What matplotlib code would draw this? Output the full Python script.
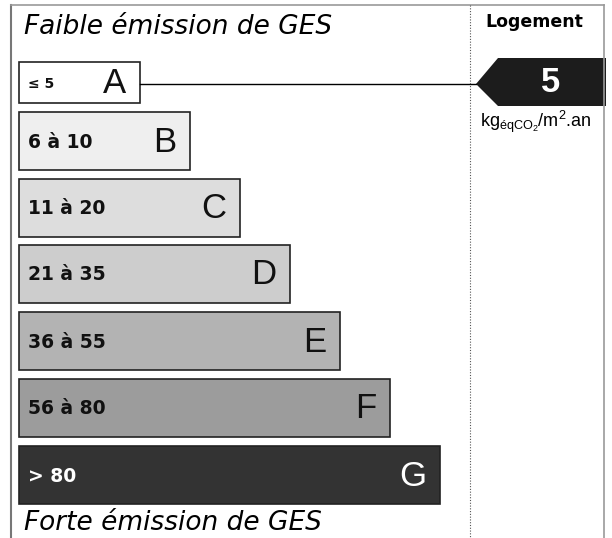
import matplotlib
matplotlib.use('Agg')
import matplotlib.pyplot as plt
from matplotlib.patches import Rectangle, Polygon

# GES classes (label, range)
classes = ['A', 'B', 'C', 'D', 'E', 'F', 'G']
ranges = ['≤ 5', '6 à 10', '11 à 20', '21 à 35', '36 à 55', '56 à 80', '> 80']
fills = ['#ffffff', '#efefef', '#dddddd', '#cdcdcd', '#b3b3b3', '#9c9c9c', '#333333']
value = 5
value_class = 'A'

W, H = 612, 538
fig = plt.figure(figsize=(W / 100, H / 100), dpi=100)
ax = fig.add_axes([0, 0, 1, 1])
ax.set_xlim(0, W)
ax.set_ylim(H, 0)
ax.axis('off')

# outer frame
ax.plot([11, 11], [5, H], color='#777777', lw=1.5)
ax.plot([11, 604], [5, 5], color='#999999', lw=1.2)
ax.plot([604, 604], [5, H], color='#999999', lw=1.2)
ax.plot([470, 470], [5, H], color='#555555', lw=0.8, ls=(0, (1, 1.5)))

ax.text(24, 27, 'Faible émission de GES', fontsize=19, style='italic', va='center', ha='left')
ax.text(24, 523, 'Forte émission de GES', fontsize=19, style='italic', va='center', ha='left')
ax.text(534, 22, 'Logement', fontsize=12.5, fontweight='bold', va='center', ha='center')

tops = [62, 112, 179, 245, 312, 379, 446]
for i, (c, r, fc) in enumerate(zip(classes, ranges, fills)):
    x0 = 19
    x1 = 140 + 50 * i
    h = 41 if i == 0 else 58
    y0 = tops[i]
    ax.add_patch(Rectangle((x0, y0), x1 - x0, h, facecolor=fc, edgecolor='#222222', lw=1.2))
    tc = 'white' if c == 'G' else '#111111'
    ax.text(28, y0 + h / 2 + 1, r, fontsize=13.5 if i > 0 else 10, fontweight='bold',
            color=tc, va='center', ha='left')
    ax.text(x1 - 14, y0 + h / 2 + 1, c, fontsize=25, family='Liberation Sans',
            color=tc, va='center', ha='right')

# arrow with value
yc = tops[classes.index(value_class)] + 20
x_end = 140
ax.plot([x_end, 476], [yc + 2, yc + 2], color='black', lw=1)
ax.add_patch(Polygon([(476, yc + 2), (498, 58), (606, 58), (606, 106), (498, 106)],
                     closed=True, facecolor='#1c1c1c', edgecolor='none'))
ax.text(551, yc + 1, str(value), fontsize=25, fontweight='bold', family='Liberation Sans',
        color='white', va='center', ha='center')
ax.text(536, 122, r'kg$_{\mathregular{éqCO_2}}$/m$^{\mathregular{2}}$.an', fontsize=13,
        family='Liberation Sans', va='center', ha='center')

fig.savefig('out.png', dpi=100)
